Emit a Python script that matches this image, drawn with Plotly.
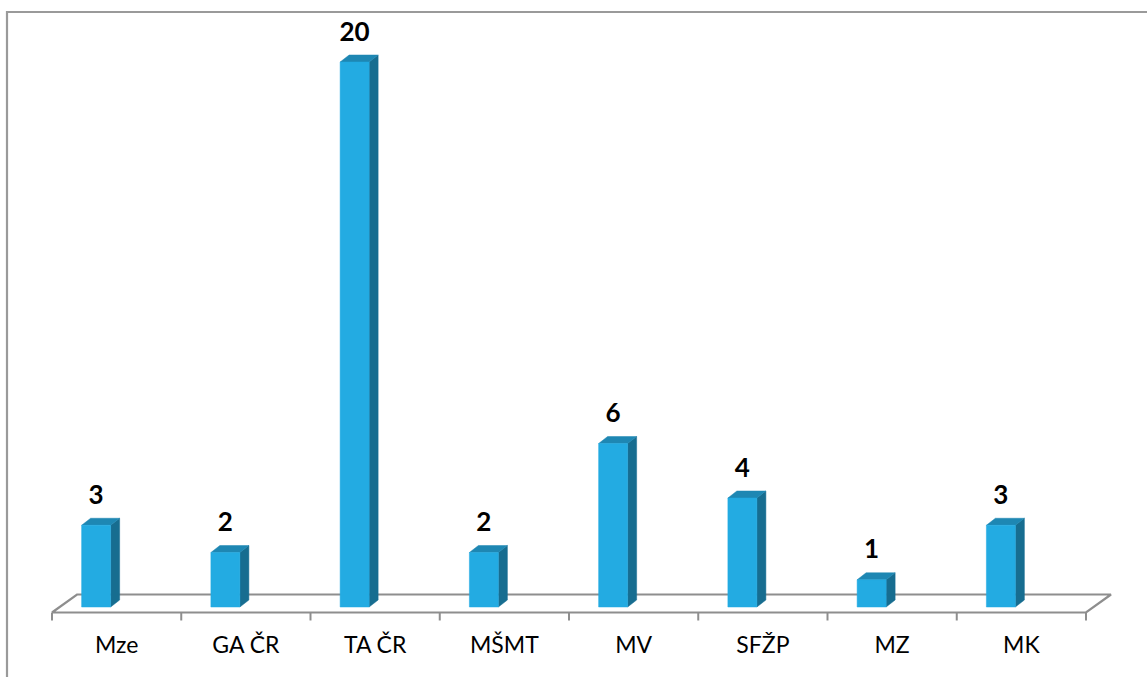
import plotly.graph_objects as go

# ---- data ----
categories = ["Mze", "GA ČR", "TA ČR", "MŠMT", "MV", "SFŽP", "MZ", "MK"]
values = [3, 2, 20, 2, 6, 4, 1, 3]

# ---- geometry / style ----
W, H = 1147, 677
PX_X = 129.25   # pixels per category slot
PX_Y = 27.25    # pixels per value unit
X0, Y0 = 52, 607

FRONT = "#23ABE2"
SIDE = "#176D90"
TOP = "#1E87B3"
GRID = "#8E8E8E"
FONT = "Lato"

x_range = [-X0 / PX_X, (W - X0) / PX_X]
y_range = [-(H - Y0) / PX_Y, Y0 / PX_Y]

bar_w = 29 / PX_X
shift = -20.5 / PX_X
dx = 9 / PX_X
dy = 7 / PX_Y
n = len(values)
centers = [i + 0.5 + shift for i in range(n)]

fig = go.Figure()

# floor
vf = -5.5 / PX_Y
vb = 12.5 / PX_Y
fx = 25 / PX_X
vt = -13.5 / PX_Y
fig.add_trace(go.Scatter(
    x=[0, fx, n + fx, n, 0], y=[vf, vb, vb, vf, vf],
    mode="lines", line=dict(color=GRID, width=2.2), hoverinfo="skip"))
tx, ty = [], []
for i in range(n + 1):
    tx += [i, i, None]
    ty += [vf, vt, None]
fig.add_trace(go.Scatter(x=tx, y=ty, mode="lines",
                         line=dict(color=GRID, width=2), hoverinfo="skip"))

# bar faces
fxs, fys, sx, sy, topx, topy = [], [], [], [], [], []
for c, v in zip(centers, values):
    xl, xr = c - bar_w / 2, c + bar_w / 2
    fxs += [xl, xr, xr, xl, xl, None]
    fys += [0, 0, v, v, 0, None]
    sx += [xr, xr + dx, xr + dx, xr, xr, None]
    sy += [0, dy, v + dy, v, 0, None]
    topx += [xl, xr, xr + dx, xl + dx, xl, None]
    topy += [v, v, v + dy, v + dy, v, None]
for px, py, col in [(sx, sy, SIDE), (topx, topy, TOP), (fxs, fys, FRONT)]:
    fig.add_trace(go.Scatter(x=px, y=py, fill="toself", fillcolor=col, mode="lines",
                             line=dict(width=0.5, color=col), hoverinfo="skip"))

# value labels
fig.add_trace(go.Scatter(
    x=centers, y=[v + 28 / PX_Y for v in values], mode="text",
    text=[str(v) for v in values], textposition="middle center",
    textfont=dict(family=FONT, size=26, color="black", weight="bold"),
    hoverinfo="skip"))

# category labels
fig.add_trace(go.Scatter(
    x=[i + 0.5 for i in range(n)], y=[-40 / PX_Y] * n, mode="text",
    text=categories, textposition="middle center",
    textfont=dict(family=FONT, size=23, color="black"),
    hoverinfo="skip"))

fig.update_layout(
    width=W, height=H, autosize=False,
    margin=dict(l=0, r=0, t=0, b=0, pad=0),
    paper_bgcolor="white", plot_bgcolor="white",
    showlegend=False,
    xaxis=dict(range=x_range, visible=False, fixedrange=True),
    yaxis=dict(range=y_range, visible=False, fixedrange=True),
    shapes=[dict(type="rect", xref="paper", yref="paper",
                 x0=7 / W, x1=1.02, y0=-0.02, y1=1 - 12 / H,
                 line=dict(color="#9A9A9A", width=2.2), fillcolor="rgba(0,0,0,0)",
                 layer="below")],
)

fig.write_html("out.html", config={"displayModeBar": False},
               post_script="document.body.style.margin='0';document.body.style.overflow='hidden';")
